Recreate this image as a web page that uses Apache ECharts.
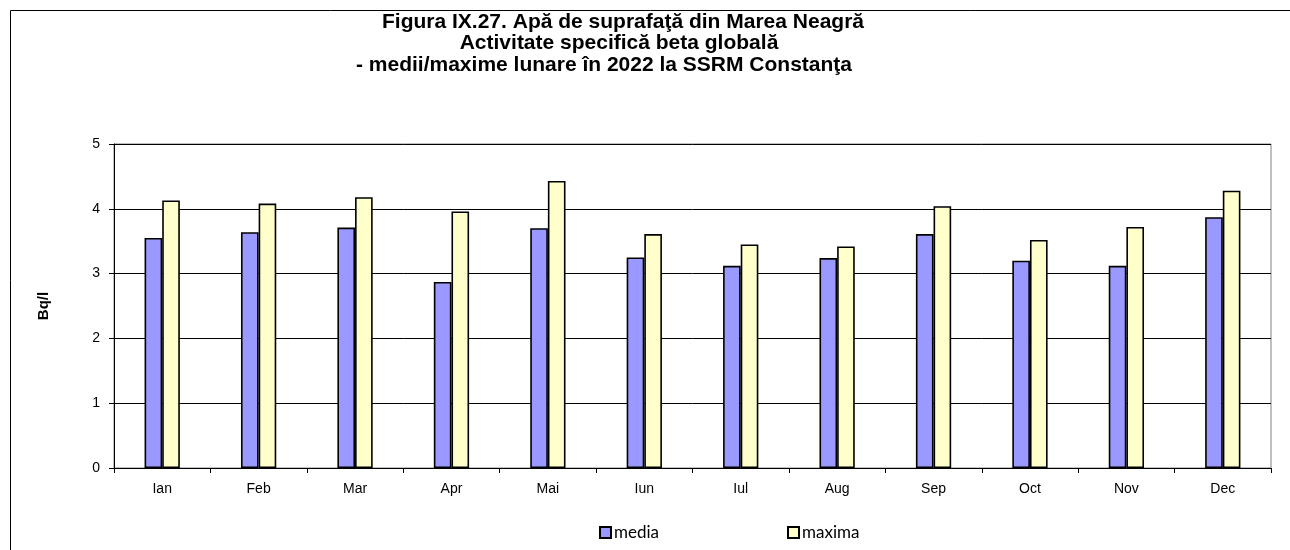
<!DOCTYPE html>
<html>
<head>
<meta charset="utf-8">
<script src="https://cdn.jsdelivr.net/npm/echarts@6/dist/echarts.min.js"></script>
<style>
  html, body { margin: 0; padding: 0; background: #fff; }
  #chart { width: 1290px; height: 550px; }
</style>
</head>
<body>
<div id="chart"></div>
<script>
// months as printed on the x axis
const months = ['Ian', 'Feb', 'Mar', 'Apr', 'Mai', 'Iun', 'Iul', 'Aug', 'Sep', 'Oct', 'Nov', 'Dec'];

// Bq/l
const mediaValues = [3.55, 3.64, 3.71, 2.87, 3.70, 3.25, 3.12, 3.24, 3.61, 3.20, 3.12, 3.87];
const maximaValues = [4.13, 4.08, 4.18, 3.96, 4.43, 3.61, 3.45, 3.42, 4.04, 3.52, 3.72, 4.28];

const seriesNames = ['media', 'maxima'];
const titleLines = [
    'Figura IX.27. Apă de suprafaţă din Marea Neagră',
    'Activitate specifică beta globală',
    '- medii/maxime lunare în 2022 la SSRM Constanţa'
];
// each title line is centred on its own, like in the original
const titleCenters = [623, 619, 604];

const chart = echarts.init(document.getElementById('chart'));

const barStyle = (color) => ({
    color: color,
    borderColor: '#000',
    borderWidth: 1.6
});

chart.setOption({
    animation: false,
    backgroundColor: '#fff',
    textStyle: { fontFamily: 'Liberation Sans, Arial, sans-serif' },
    title: titleLines.map((line, i) => ({
        text: line,
        left: titleCenters[i],
        top: 11 + i * 21.5,
        textAlign: 'center',
        padding: 0,
        textStyle: {
            fontFamily: 'Liberation Sans, Arial, sans-serif',
            fontSize: 21,
            fontWeight: 'bold',
            color: '#000',
            lineHeight: 22
        }
    })),
    // thin frame round the whole chart (right/bottom edges fall outside the picture)
    graphic: [{
        type: 'rect',
        shape: { x: 10.5, y: 10.5, width: 1300, height: 600 },
        style: { fill: 'none', stroke: '#000', lineWidth: 1 },
        silent: true
    }],
    legend: {
        data: seriesNames,
        left: 594,
        top: 519,
        icon: 'rect',
        itemWidth: 11,
        itemHeight: 11,
        itemGap: 128,
        textStyle: {
            fontFamily: 'Lato, Open Sans, sans-serif',
            fontSize: 17,
            color: '#000',
            padding: [0, 0, 0, -2]
        }
    },
    grid: {
        left: 114,
        right: 19,
        top: 144,
        bottom: 82,
        show: true,
        borderColor: '#808080',
        borderWidth: 1
    },
    xAxis: {
        type: 'category',
        data: months,
        boundaryGap: true,
        axisLine: { lineStyle: { color: '#000', width: 1 } },
        axisTick: { show: true, length: 5, lineStyle: { color: '#000' } },
        axisLabel: { color: '#000', fontSize: 14, margin: 14 }
    },
    yAxis: {
        type: 'value',
        min: 0,
        max: 5,
        interval: 1,
        name: 'Bq/l',
        nameLocation: 'middle',
        nameGap: 63,
        nameRotate: 90,
        nameTextStyle: { fontSize: 15, fontWeight: 'bold', color: '#000' },
        axisLine: { show: true, lineStyle: { color: '#000', width: 1 } },
        axisTick: { show: true, length: 5, lineStyle: { color: '#000' } },
        axisLabel: { color: '#000', fontSize: 14, margin: 14 },
        splitLine: { lineStyle: { color: '#000', width: 1 } }
    },
    series: [
        {
            name: seriesNames[0],
            type: 'bar',
            data: mediaValues,
            barWidth: '18.3%',
            barGap: '0%',
            itemStyle: barStyle('#9999ff')
        },
        {
            name: seriesNames[1],
            type: 'bar',
            data: maximaValues,
            barWidth: '18.3%',
            barGap: '0%',
            itemStyle: barStyle('#ffffcc')
        }
    ]
});
</script>
</body>
</html>
